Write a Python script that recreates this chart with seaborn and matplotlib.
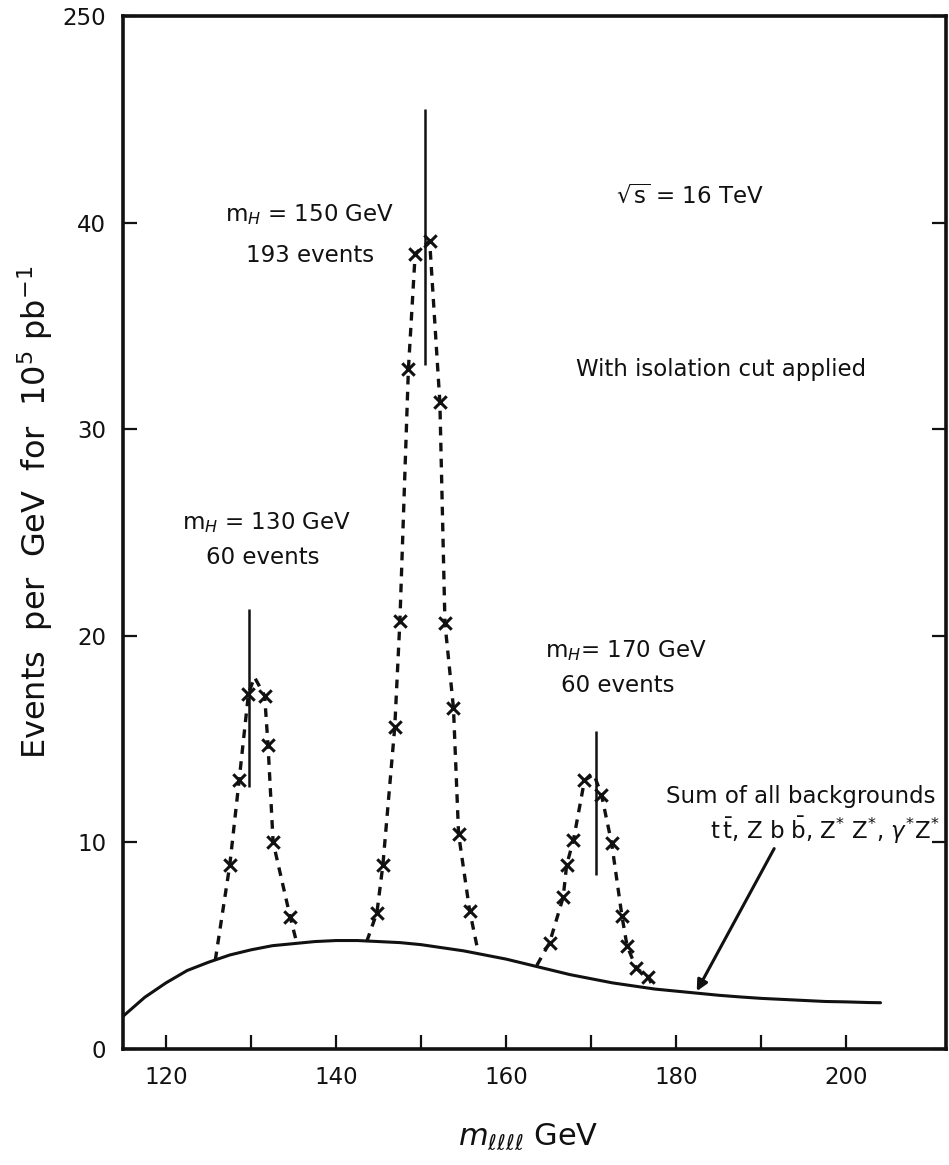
import numpy as np
import pandas as pd
import matplotlib
matplotlib.use("Agg")
import matplotlib.pyplot as plt
import seaborn as sns

# ---- background: sum of all backgrounds (events per GeV) ----
bkg_mass = [115, 117.5, 120, 122.5, 125, 127.5, 130, 132.5, 135, 137.5, 140, 142.5,
            145, 147.5, 150, 152.5, 155, 157.5, 160, 162.5, 165, 167.5, 170, 172.5,
            175, 177.5, 180, 182.5, 185, 187.5, 190, 192.5, 195, 197.5, 200, 202.5, 204]
bkg_events = [1.6, 2.5, 3.2, 3.8, 4.2, 4.55, 4.8, 5.0, 5.1, 5.2, 5.25, 5.25,
              5.2, 5.15, 5.05, 4.9, 4.75, 4.55, 4.35, 4.1, 3.85, 3.6, 3.4, 3.2,
              3.05, 2.9, 2.8, 2.7, 2.6, 2.52, 2.45, 2.4, 2.35, 2.3, 2.28, 2.25, 2.24]

# ---- signal + background for three Higgs masses ----
h130_mass = [125.8, 127.5, 128.6, 129.7, 130.4, 131.6, 132.0, 132.6, 134.6, 135.4]
h130_events = [4.3, 8.9, 13.0, 17.2, 18.0, 17.1, 14.7, 10.0, 6.4, 5.1]
h130_marked = [0, 1, 1, 1, 0, 1, 1, 1, 1, 0]

h150_mass = [143.6, 144.8, 145.5, 146.9, 147.5, 148.5, 149.3, 151.0, 152.2, 152.8,
             153.8, 154.4, 155.7, 156.7]
h150_events = [5.2, 6.6, 8.9, 15.6, 20.7, 32.9, 38.5, 39.1, 31.3, 20.6,
               16.5, 10.4, 6.7, 4.7]
h150_marked = [0, 1, 1, 1, 1, 1, 1, 1, 1, 1, 1, 1, 1, 0]

h170_mass = [163.6, 165.1, 166.7, 167.1, 167.9, 169.2, 170.3, 171.2, 172.4, 173.6,
             174.2, 175.3, 176.7, 177.3]
h170_events = [4.05, 5.15, 7.35, 8.9, 10.1, 13.0, 13.3, 12.3, 9.95, 6.45,
               5.0, 3.9, 3.5, 2.95]
h170_marked = [0, 1, 1, 1, 1, 1, 0, 1, 1, 1, 1, 1, 1, 0]

# vertical mass lines: position, lower end, upper end
mass_line_x = [129.8, 150.4, 170.6]
mass_line_lo = [12.7, 33.1, 8.4]
mass_line_hi = [21.3, 45.5, 15.4]

x_ticks = [120, 130, 140, 150, 160, 170, 180, 190, 200]
x_ticklabels = ["120", "", "140", "", "160", "", "180", "", "200"]
y_ticks = [0, 10, 20, 30, 40, 50]
y_ticklabels = ["0", "10", "20", "30", "40", "250"]

sns.set_theme(style="ticks")
plt.rcParams["font.family"] = ["DejaVu Sans"]
plt.rcParams["mathtext.fontset"] = "dejavusans"

fig = plt.figure(figsize=(9.49, 11.65), dpi=100)
ax = fig.add_axes([123 / 949, 1 - 1049 / 1165, (946 - 123) / 949, (1049 - 16) / 1165])

ink = "#111111"

bkg = pd.DataFrame({"mass": bkg_mass, "events": bkg_events})
sns.lineplot(data=bkg, x="mass", y="events", ax=ax, color=ink, lw=2.2,
             sort=False, estimator=None)

for xs, ys, mk in [(h130_mass, h130_events, h130_marked),
                   (h150_mass, h150_events, h150_marked),
                   (h170_mass, h170_events, h170_marked)]:
    df = pd.DataFrame({"mass": xs, "events": ys, "marked": mk})
    sns.lineplot(data=df, x="mass", y="events", ax=ax, color=ink, lw=2.4,
                 sort=False, estimator=None, linestyle=(0, (2.6, 2.2)))
    sns.scatterplot(data=df[df["marked"] == 1], x="mass", y="events", ax=ax,
                    marker="x", s=80, color=ink, linewidth=2.2, zorder=4)

ax.vlines(mass_line_x, mass_line_lo, mass_line_hi, color=ink, lw=1.8)

ax.set_xlim(114.95, 211.7)
ax.set_ylim(0, 50)
ax.set_xticks(x_ticks)
ax.set_xticklabels(x_ticklabels)
ax.set_yticks(y_ticks)
ax.set_yticklabels(y_ticklabels)
ax.tick_params(direction="in", length=10, width=1.6, labelsize=16.5, colors=ink,
               right=True, top=False, pad=12)
for sp in ax.spines.values():
    sp.set_linewidth(2.6)
    sp.set_color(ink)
    sp.set_visible(True)

ax.set_xlabel(r"$m_{\ell\ell\ell\ell}$ GeV", fontsize=22, color=ink)
ax.set_ylabel(r"Events  per  GeV  for  10$^{5}$ pb$^{-1}$", fontsize=23, color=ink)
ax.xaxis.set_label_coords(0.492, -0.07)
ax.yaxis.set_label_coords(-0.083, 0.52)

fs = 16.5
ax.text(136.9, 40.4, r"m$_H$ = 150 GeV", ha="center", va="center", fontsize=fs, color=ink)
ax.text(136.9, 38.4, "193 events", ha="center", va="center", fontsize=fs, color=ink)
ax.text(181.6, 41.3, r"$\sqrt{\mathrm{s}}$ = 16 TeV", ha="center", va="center",
        fontsize=fs, color=ink)
ax.text(185.3, 32.9, "With isolation cut applied", ha="center", va="center",
        fontsize=fs, color=ink)
ax.text(131.8, 25.5, r"m$_H$ = 130 GeV", ha="center", va="center", fontsize=fs, color=ink)
ax.text(131.4, 23.8, "60 events", ha="center", va="center", fontsize=fs, color=ink)
ax.text(174.1, 19.3, r"m$_H$= 170 GeV", ha="center", va="center", fontsize=fs, color=ink)
ax.text(173.1, 17.6, "60 events", ha="center", va="center", fontsize=fs, color=ink)
ax.text(210.5, 12.2, "Sum of all backgrounds", ha="right", va="center",
        fontsize=fs, color=ink)
ax.text(210.9, 10.6,
        r"$\mathrm{t\,\bar{t}}$, Z b $\mathrm{\bar{b}}$, Z$^{*}$ Z$^{*}$, $\gamma^{*}$Z$^{*}$",
        ha="right", va="center", fontsize=fs, color=ink)

ax.annotate("", xy=(182.4, 2.8), xytext=(191.5, 9.7),
            arrowprops=dict(arrowstyle="-|>", color=ink, lw=2.2,
                            mutation_scale=16, shrinkA=0, shrinkB=0))

fig.savefig("out.png", dpi=100)
